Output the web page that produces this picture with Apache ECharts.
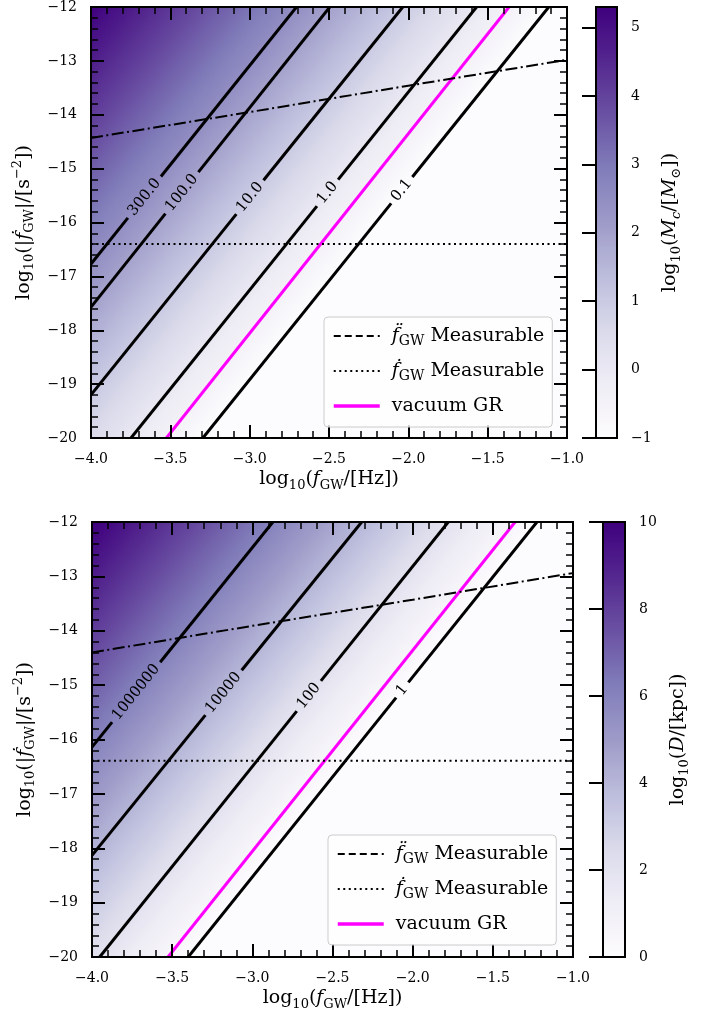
<!DOCTYPE html>
<html><head><meta charset="utf-8">
<script src="https://cdn.jsdelivr.net/npm/echarts@6/dist/echarts.min.js"></script>
<style>html,body{margin:0;padding:0;background:#fff}#c{width:704px;height:1013px}</style>
</head><body><div id="c"></div>
<script>
// ================= DATA =================
const xRange = [-4, -1];          // log10(f_GW/Hz)
const yRange = [-20, -12];        // log10(|fdot|/s^-2)

// ---- top panel : log10(Mc/Msun) ----
const mcColorRange = [-1, 5.3];
const mcIsoLevels  = [5.3, 5, 4, 3, 2, 1, 0, -1];
const mcIsoXTop    = [-4.0, -3.86, -3.40, -2.95, -2.495, -2.035, -1.57, -1.115];   // x where level line meets y=-12
const mcIsoXBottom = [-6.18, -6.04, -5.58, -5.13, -4.675, -4.215, -3.75, -3.295];  // x where level line meets y=-20
const mcContourLabels = ['300.0', '100.0', '10.0', '1.0', '0.1'];
const mcContourStart  = [[-4, -16.77], [-4, -17.57], [-4, -19.2], [-3.748, -20], [-3.295, -20]];
const mcContourEnd    = [[-2.705, -12], [-2.495, -12], [-2.035, -12], [-1.57, -12], [-1.115, -12]];
const mcContourLabelY = [-15.53, -15.45, -15.53, -15.45, -15.40];
const mcFddot = [[-4, -14.43], [-3, -13.95], [-2, -13.46], [-1, -12.98]];
const mcFdot  = [[-4, -16.4], [-1, -16.4]];
const mcVacuum = [[-3.525, -20], [-1.365, -12]];
const mcTicks = [-1, 0, 1, 2, 3, 4, 5];

// ---- bottom panel : log10(D/kpc) ----
const dColorRange = [0, 10];
const dIsoLevels  = [10.1, 10, 8, 6, 4, 2, 0];
const dIsoXTop    = [-4.0, -3.97, -3.42, -2.87, -2.318, -1.778, -1.225];
const dIsoXBottom = [-6.176, -6.146, -5.596, -5.046, -4.494, -3.954, -3.40];
const dContourLabels = ['1000000', '10000', '100', '1'];
const dContourStart  = [[-4, -16.14], [-4, -18.13], [-3.952, -20], [-3.40, -20]];
const dContourEnd    = [[-2.872, -12], [-2.318, -12], [-1.778, -12], [-1.225, -12]];
const dContourLabelY = [-15.13, -15.14, -15.2, -15.09];
const dFddot = [[-4, -14.40], [-3, -13.91], [-2, -13.43], [-1, -12.94]];
const dFdot  = [[-4, -16.39], [-1, -16.39]];
const dVacuum = [[-3.526, -20], [-1.361, -12]];
const dTicks = [0, 2, 4, 6, 8, 10];

// ================= STYLE =================
const FONT = 'DejaVu Serif';
const PURPLES = ['#fcfbfd', '#efedf5', '#dadaeb', '#bcbddc', '#9e9ac8', '#807dba', '#6a51a3', '#54278f', '#3f007d'];
function hex2rgb(h) { return [1, 3, 5].map(i => parseInt(h.substr(i, 2), 16)); }
const PRGB = PURPLES.map(hex2rgb);
function cmap(t) {
  t = Math.max(0, Math.min(1, t));
  const p = t * (PRGB.length - 1);
  const i = Math.min(PRGB.length - 2, Math.floor(p));
  const f = p - i;
  const c = PRGB[i].map((v, k) => Math.round(v + (PRGB[i + 1][k] - v) * f));
  return 'rgb(' + c.join(',') + ')';
}
const fmt = (v, d) => (v < 0 ? '\u2212' : '') + Math.abs(v).toFixed(d);
const rich = {
  sub: { fontSize: 13, lineHeight: 12, verticalAlign: 'bottom', fontFamily: FONT, color: '#000' },
  sup: { fontSize: 13, lineHeight: 12, verticalAlign: 'top', fontFamily: FONT, color: '#000' },
  it: { fontStyle: 'italic', fontSize: 19, fontFamily: FONT, color: '#000' },
  itsub: { fontStyle: 'italic', fontSize: 13, lineHeight: 12, verticalAlign: 'bottom', fontFamily: FONT, color: '#000' }
};
const nameStyle = { fontFamily: FONT, fontSize: 19, lineHeight: 25, color: '#000', rich: rich };

const measureCtx = document.createElement('canvas').getContext('2d');
const LABEL_FONT = '15px "DejaVu Serif"';
measureCtx.font = LABEL_FONT;

function fieldRenderer(levels, xTop, xBot, cRange) {
  return function (params, api) {
    const tl = api.coord([xRange[0], yRange[1]]);
    const br = api.coord([xRange[1], yRange[0]]);
    const pT = levels.map((l, i) => api.coord([xTop[i], yRange[1]]));
    const pB = levels.map((l, i) => api.coord([xBot[i], yRange[0]]));
    const dx = pT[0][0] - pB[0][0], dy = pT[0][1] - pB[0][1];
    const len = Math.hypot(dx, dy);
    const nx = dy / len, ny = -dx / len;
    const s = pT.map(p => p[0] * nx + p[1] * ny);
    const s0 = s[0], sN = s[s.length - 1];
    const off = s.map(v => (v - s0) / (sN - s0));
    const stops = [];
    const norm = l => (l - cRange[0]) / (cRange[1] - cRange[0]);
    for (let i = 0; i < levels.length - 1; i++) {
      for (let k = 0; k < 6; k++) {
        const l = levels[i] + (levels[i + 1] - levels[i]) * k / 6;
        stops.push({ offset: off[i] + (off[i + 1] - off[i]) * k / 6, color: cmap(norm(l)) });
      }
    }
    stops.push({ offset: 1, color: cmap(norm(levels[levels.length - 1])) });
    const g0 = pT[0];
    const g1 = [g0[0] + nx * (sN - s0), g0[1] + ny * (sN - s0)];
    return {
      type: 'rect', silent: true,
      shape: { x: tl[0], y: tl[1], width: br[0] - tl[0], height: br[1] - tl[1] },
      style: { fill: new echarts.graphic.LinearGradient(g0[0], g0[1], g1[0], g1[1], stops, true) }
    };
  };
}

function contourRenderer(labels, labelY) {
  return function (params, api) {
    const i = params.dataIndex;
    const a = [api.value(0), api.value(1)], b = [api.value(2), api.value(3)];
    const p1 = api.coord(a), p2 = api.coord(b);
    const t = (labelY[i] - a[1]) / (b[1] - a[1]);
    const pc = [p1[0] + (p2[0] - p1[0]) * t, p1[1] + (p2[1] - p1[1]) * t];
    const L = Math.hypot(p2[0] - p1[0], p2[1] - p1[1]);
    const ux = (p2[0] - p1[0]) / L, uy = (p2[1] - p1[1]) / L;
    const half = measureCtx.measureText(labels[i]).width / 2 + 5;
    const ls = { stroke: '#000', lineWidth: 3 };
    return {
      type: 'group', silent: true,
      children: [
        { type: 'line', shape: { x1: p1[0], y1: p1[1], x2: pc[0] - ux * half, y2: pc[1] - uy * half }, style: ls },
        { type: 'line', shape: { x1: pc[0] + ux * half, y1: pc[1] + uy * half, x2: p2[0], y2: p2[1] }, style: ls },
        { type: 'text', x: pc[0], y: pc[1], rotation: Math.atan2(-(p2[1] - p1[1]), p2[0] - p1[0]),
          style: { text: labels[i], font: LABEL_FONT, fill: '#000', align: 'center', verticalAlign: 'middle' } }
      ]
    };
  };
}

function cbarRenderer(cRange) {
  return function (params, api) {
    const p1 = api.coord([0, cRange[1]]), p2 = api.coord([1, cRange[0]]);
    const stops = [];
    for (let k = 0; k <= 32; k++) stops.push({ offset: k / 32, color: cmap(1 - k / 32) });
    return {
      type: 'rect', silent: true,
      shape: { x: p1[0], y: p1[1], width: p2[0] - p1[0], height: p2[1] - p1[1] },
      style: { fill: new echarts.graphic.LinearGradient(0, 0, 0, 1, stops) }
    };
  };
}

// ================= AXES =================
function mainX(grid) {
  const base = {
    gridIndex: grid, type: 'value', min: xRange[0], max: xRange[1], interval: 0.5, z: 6,
    axisLine: { show: true, lineStyle: { color: '#000', width: 2 } },
    axisTick: { show: true, inside: true, length: 13, lineStyle: { color: '#000', width: 2 } },
    minorTick: { show: true, splitNumber: 5, length: 7, lineStyle: { color: '#000', width: 1.5 } },
    splitLine: { show: false }, minorSplitLine: { show: false }
  };
  return [
    Object.assign({}, base, {
      position: 'bottom',
      axisLabel: { color: '#000', fontFamily: FONT, fontSize: 14, margin: 14, formatter: v => fmt(v, 1) },
      name: 'log{sub|10}({it|f}{sub|GW}/[Hz])', nameLocation: 'middle', nameGap: 29, nameTextStyle: nameStyle
    }),
    Object.assign({}, base, { position: 'top', axisLabel: { show: false } })
  ];
}
function mainY(grid) {
  const base = {
    gridIndex: grid, type: 'value', min: yRange[0], max: yRange[1], interval: 1, z: 6,
    axisLine: { show: true, lineStyle: { color: '#000', width: 2 } },
    axisTick: { show: true, inside: true, length: 13, lineStyle: { color: '#000', width: 2 } },
    minorTick: { show: true, splitNumber: 5, length: 7, lineStyle: { color: '#000', width: 1.5 } },
    splitLine: { show: false }, minorSplitLine: { show: false }
  };
  return [
    Object.assign({}, base, {
      position: 'left',
      axisLabel: { color: '#000', fontFamily: FONT, fontSize: 14, margin: 14, formatter: v => fmt(v, 0) },
      name: 'log{sub|10}(|{it|\u1E1F}{sub|GW}|/[s{sup|\u22122}])', nameLocation: 'middle', nameRotate: 90, nameGap: 50,
      nameTextStyle: nameStyle
    }),
    Object.assign({}, base, { position: 'right', axisLabel: { show: false } })
  ];
}
function cbarY(grid, cRange, ticks, name) {
  return {
    gridIndex: grid, type: 'value', min: cRange[0], max: cRange[1], interval: ticks[1] - ticks[0], position: 'right', z: 6,
    axisLine: { show: true, lineStyle: { color: '#000', width: 2 } },
    axisTick: { show: true, inside: true, length: 14, lineStyle: { color: '#000', width: 2 } },
    splitLine: { show: false },
    axisLabel: { color: '#000', fontFamily: FONT, fontSize: 14, margin: 14, showMaxLabel: ticks.indexOf(cRange[1]) >= 0,
      formatter: v => (ticks.indexOf(v) >= 0 ? fmt(v, 0) : '') },
    name: name, nameLocation: 'middle', nameRotate: 90, nameGap: 41, nameTextStyle: nameStyle
  };
}
function cbarX(grid) {
  return { gridIndex: grid, type: 'value', min: 0, max: 1, show: false };
}

// ================= SERIES =================
function panelSeries(xi, yi, levels, xTop, xBot, cRange, cStart, cEnd, cLabels, cLabelY, fddot, fdot, vacuum) {
  return [
    { type: 'custom', xAxisIndex: xi, yAxisIndex: yi, z: 1, clip: true, silent: true,
      renderItem: fieldRenderer(levels, xTop, xBot, cRange), data: [[xRange[0], yRange[0]]], encode: { x: 0, y: 1 } },
    { type: 'custom', xAxisIndex: xi, yAxisIndex: yi, z: 2, clip: true, silent: true,
      renderItem: contourRenderer(cLabels, cLabelY),
      data: cStart.map((s, i) => [s[0], s[1], cEnd[i][0], cEnd[i][1]]), encode: { x: [0, 2], y: [1, 3] } },
    { type: 'line', name: 'gr', xAxisIndex: xi, yAxisIndex: yi, z: 3, data: vacuum, symbol: 'none', silent: true,
      lineStyle: { color: '#ff00ff', width: 3 }, itemStyle: { color: '#ff00ff' } },
    { type: 'line', name: 'fddot', xAxisIndex: xi, yAxisIndex: yi, z: 3, data: fddot, symbol: 'none', silent: true,
      lineStyle: { color: '#000', width: 2, type: [12, 3.5, 2, 3.5] }, itemStyle: { color: '#000' } },
    { type: 'line', name: 'fdot', xAxisIndex: xi, yAxisIndex: yi, z: 3, data: fdot, symbol: 'none', silent: true,
      lineStyle: { color: '#000', width: 2, type: [2, 3.5] }, itemStyle: { color: '#000' } }
  ];
}
function cbarSeries(xi, yi, cRange) {
  return { type: 'custom', xAxisIndex: xi, yAxisIndex: yi, z: 1, silent: true,
    renderItem: cbarRenderer(cRange), data: [[0, cRange[0]]], encode: { x: 0, y: 1 } };
}

const legendText = {
  fddot: '{it|f\u0308}{sub|GW} Measurable',
  fdot: '{it|\u1E1F}{sub|GW} Measurable',
  gr: 'vacuum GR'
};
function legend(left, top) {
  return {
    left: left, top: top, orient: 'vertical', z: 20,
    data: [
      { name: 'fddot', lineStyle: { width: 2, color: '#000', type: [7, 4] } },
      { name: 'fdot', lineStyle: { width: 2, color: '#000', type: [2, 3.5] } },
      { name: 'gr', lineStyle: { width: 3.5, color: '#ff00ff' } }
    ],
    itemWidth: 46, itemHeight: 14, itemGap: 11, padding: [7, 8, 9, 8],
    backgroundColor: 'rgba(255,255,255,0.8)', borderColor: '#cccccc', borderWidth: 1, borderRadius: 4,
    selectedMode: false,
    itemStyle: { color: 'rgba(0,0,0,0)', borderColor: 'rgba(0,0,0,0)', borderWidth: 0, opacity: 0 },
    formatter: n => legendText[n],
    textStyle: { fontFamily: FONT, fontSize: 19, lineHeight: 24, color: '#000', padding: [0, 0, 0, 7],
      rich: { it: { fontStyle: 'italic', fontSize: 19, fontFamily: FONT }, sub: { fontSize: 14, lineHeight: 13, verticalAlign: 'bottom', fontFamily: FONT } } }
  };
}

const chart = echarts.init(document.getElementById('c'), null, { renderer: 'canvas' });
const gridStyle = { show: true, borderColor: '#000', borderWidth: 2, backgroundColor: 'transparent', z: 6 };
chart.setOption({
  animation: false,
  backgroundColor: '#fff',
  grid: [
    Object.assign({ left: 91, top: 7, width: 476, height: 431 }, gridStyle),
    Object.assign({ left: 596, top: 7, width: 21, height: 431 }, gridStyle),
    Object.assign({ left: 92, top: 522, width: 481, height: 435 }, gridStyle),
    Object.assign({ left: 603, top: 522, width: 22, height: 435 }, gridStyle)
  ],
  xAxis: [].concat(mainX(0), [cbarX(1)], mainX(2), [cbarX(3)]),
  yAxis: [].concat(mainY(0), [cbarY(1, mcColorRange, mcTicks, 'log{sub|10}({it|M}{itsub|c}/[{it|M}{sub|\u2299}])')],
                   mainY(2), [cbarY(3, dColorRange, dTicks, 'log{sub|10}({it|D}/[kpc])')]),
  legend: [legend(324, 317), legend(328, 835)],
  series: [].concat(
    panelSeries(0, 0, mcIsoLevels, mcIsoXTop, mcIsoXBottom, mcColorRange, mcContourStart, mcContourEnd, mcContourLabels, mcContourLabelY, mcFddot, mcFdot, mcVacuum),
    [cbarSeries(2, 2, mcColorRange)],
    panelSeries(3, 3, dIsoLevels, dIsoXTop, dIsoXBottom, dColorRange, dContourStart, dContourEnd, dContourLabels, dContourLabelY, dFddot, dFdot, dVacuum),
    [cbarSeries(5, 5, dColorRange)]
  )
});
</script></body></html>
